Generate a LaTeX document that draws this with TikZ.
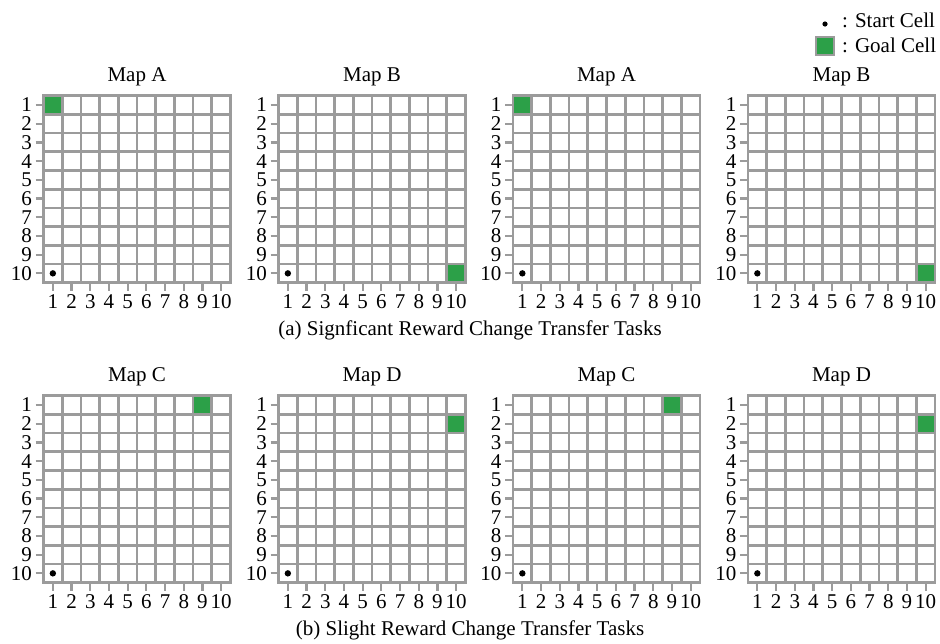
\documentclass[tikz,border=0pt]{standalone}
\usepackage{fontspec}
\setmainfont{Liberation Serif}
\definecolor{gridgray}{RGB}{155,155,155}
\definecolor{goalgreen}{RGB}{44,160,72}
\newcommand\drawmap[6]{% #1 left, #2 top, #3 title, #4 goal col, #5 goal row, #6 name
  \begin{scope}[shift={(#1,#2)}]
    \fill[goalgreen] ({(#4-1)*18.7},{(#5-1)*18.7}) rectangle ++(18.7,18.7);
    \foreach \i in {0,...,10} {
      \draw[gridline] ({\i*18.7},0) -- ({\i*18.7},187);
      \draw[gridline] (0,{\i*18.7}) -- (187,{\i*18.7});
    }
    \foreach \i in {1,...,10} {
      \draw[tickline] (-8,{(\i-0.5)*18.7}) -- (0,{(\i-0.5)*18.7});
      \node[lbl, anchor=east] (#6-y\i) at (-11.5,{(\i-0.5)*18.7}) {\i};
      \draw[tickline] ({(\i-0.5)*18.7},187) -- ({(\i-0.5)*18.7},195);
      \node[lbl] (#6-x\i) at ({(\i-0.5)*18.7},206) {\i};
    }
    \fill[black] ({0.5*18.7},{9.5*18.7}) circle (3.2);
    \node[lbl] (#6-title) at (93.5,-19) {#3};
  \end{scope}}
\begin{document}
\begin{tikzpicture}[x=1pt,y=-1pt,
  gridline/.style={draw=gridgray, line width=2.7pt, line cap=rect},
  tickline/.style={draw=gridgray, line width=2.2pt},
  lbl/.style={font=\fontsize{21}{24}\selectfont, inner sep=0pt}]
\useasboundingbox (0,0) rectangle (940,643);

\drawmap{43.5}{95.7}{Map A}{1}{1}{a1}
\drawmap{278.5}{95.7}{Map B}{10}{10}{a2}
\drawmap{513}{95.7}{Map A}{1}{1}{a3}
\drawmap{748}{95.7}{Map B}{10}{10}{a4}

\drawmap{43.5}{395.7}{Map C}{9}{1}{b1}
\drawmap{278.5}{395.7}{Map D}{10}{2}{b2}
\drawmap{513}{395.7}{Map C}{9}{1}{b3}
\drawmap{748}{395.7}{Map D}{10}{2}{b4}

\node[lbl] (capa) at (470,330) {(a) Signficant Reward Change Transfer Tasks};
\node[lbl] (capb) at (470,630) {(b) Slight Reward Change Transfer Tasks};

% legend
\fill[black] (825,24) circle (2.6);
\node[lbl, anchor=west] (legstart) at (842,20) {: Start Cell};
\draw[gridline, fill=goalgreen] (816,37) rectangle (834,55);
\node[lbl, anchor=west] (leggoal) at (842,45) {: Goal Cell};
\end{tikzpicture}
\end{document}
